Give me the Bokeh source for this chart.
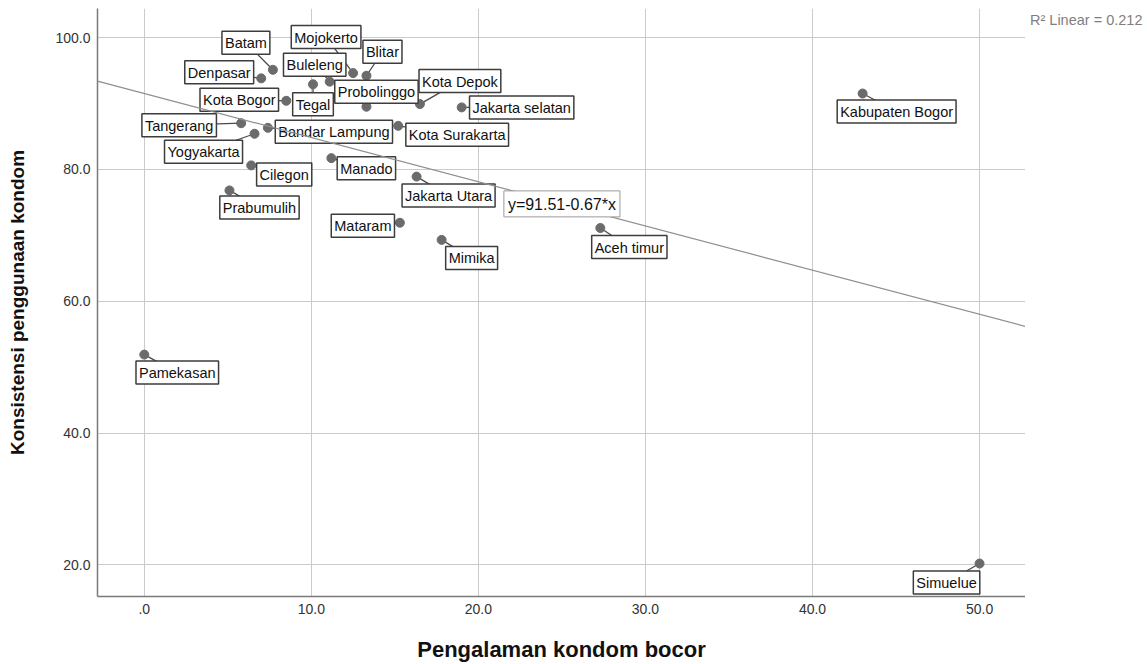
from bokeh.plotting import figure
from bokeh.models import Range1d, FixedTicker, Label, Div
from bokeh.layouts import row
from bokeh.embed import file_html
from bokeh.resources import INLINE

# ---- data -------------------------------------------------------------
cities = [
    "Batam", "Denpasar", "Kota Bogor", "Tangerang", "Bandar Lampung",
    "Yogyakarta", "Cilegon", "Prabumulih", "Pamekasan", "Tegal",
    "Buleleng", "Mojokerto", "Blitar", "Probolinggo", "Kota Depok",
    "Jakarta selatan", "Kota Surakarta", "Manado", "Jakarta Utara",
    "Mataram", "Mimika", "Aceh timur", "Kabupaten Bogor", "Simuelue",
]
kondom_bocor = [
    7.7, 7.0, 8.5, 5.8, 7.4,
    6.6, 6.4, 5.1, 0.0, 10.1,
    11.1, 12.5, 13.3, 13.3, 16.5,
    19.0, 15.2, 11.2, 16.3,
    15.3, 17.8, 27.3, 43.0, 50.0,
]
konsistensi = [
    95.1, 93.8, 90.4, 87.0, 86.3,
    85.4, 80.6, 76.8, 51.9, 92.9,
    93.3, 94.6, 94.2, 89.5, 89.9,
    89.4, 86.6, 81.7, 78.9,
    71.9, 69.3, 71.1, 91.5, 20.2,
]

x_ticks = [0, 10, 20, 30, 40, 50]
x_tick_labels = [".0", "10.0", "20.0", "30.0", "40.0", "50.0"]
y_ticks = [20, 40, 60, 80, 100]
y_tick_labels = ["20.0", "40.0", "60.0", "80.0", "100.0"]

x_title = "Pengalaman kondom bocor"
y_title = "Konsistensi penggunaan kondom"

intercept = 91.51
slope = -0.67
r_squared = 0.212

# ---- layout -------------------------------------------------------------
W, H = 1147, 664
SIDE_W = 122                       # strip right of the chart for the R² note
FIG_W = W - SIDE_W
BORDER_L, BORDER_T, BORDER_B = 97, 8, 68
FRAME_W = FIG_W - BORDER_L
FRAME_H = H - BORDER_T - BORDER_B
X_START, X_END = -2.8, 52.75
Y_START, Y_END = 15.2, 104.4
px_per_x = FRAME_W / (X_END - X_START)
px_per_y = FRAME_H / (Y_END - Y_START)

# label box centre relative to its point, in screen pixels (x right, y up)
label_offsets = {
    "Batam": (-27, 27), "Denpasar": (-42, 6), "Kota Bogor": (-47, 1),
    "Tangerang": (-62, -2), "Bandar Lampung": (66, -4), "Yogyakarta": (-51, -18),
    "Cilegon": (33, -9), "Prabumulih": (30, -17), "Pamekasan": (33, -18),
    "Tegal": (0, -20), "Buleleng": (-15, 17), "Mojokerto": (-27, 36),
    "Blitar": (16, 24), "Probolinggo": (10, 15), "Kota Depok": (40, 23),
    "Jakarta selatan": (60, 0), "Kota Surakarta": (59, -9), "Manado": (35, -10),
    "Jakarta Utara": (32, -19), "Mataram": (-37, -3), "Mimika": (30, -18),
    "Aceh timur": (29, -19), "Kabupaten Bogor": (34, -18), "Simuelue": (-33, -19),
}
EQ_X = 25.0  # where the fit equation sits along the line

p = figure(
    width=FIG_W, height=H,
    x_range=Range1d(X_START, X_END), y_range=Range1d(Y_START, Y_END),
    output_backend="svg", toolbar_location=None,
    min_border_left=BORDER_L, min_border_right=0,
    min_border_top=BORDER_T, min_border_bottom=BORDER_B,
    background_fill_color="white", border_fill_color="white",
)
p.outline_line_color = None

# grid
p.xgrid.ticker = FixedTicker(ticks=x_ticks)
p.ygrid.ticker = FixedTicker(ticks=y_ticks)
for g in (p.xgrid, p.ygrid):
    g.grid_line_color = "#cbcbcb"
    g.grid_line_width = 1

# axes
p.xaxis.ticker = FixedTicker(ticks=x_ticks)
p.yaxis.ticker = FixedTicker(ticks=y_ticks)
p.xaxis.major_label_overrides = dict(zip(x_ticks, x_tick_labels))
p.yaxis.major_label_overrides = dict(zip(y_ticks, y_tick_labels))
p.xaxis.axis_label = x_title
p.yaxis.axis_label = y_title
for ax in (p.xaxis, p.yaxis):
    ax.axis_line_color = "#7a7a7a"
    ax.axis_line_width = 1.5
    ax.major_tick_line_color = None
    ax.minor_tick_line_color = None
    ax.major_tick_out = 0
    ax.major_tick_in = 0
    ax.major_label_text_font = "Liberation Sans"
    ax.major_label_text_font_size = "14px"
    ax.major_label_text_color = "#333333"
    ax.major_label_standoff = 7
    ax.axis_label_text_font = "Liberation Sans"
    ax.axis_label_text_font_style = "bold"
    ax.axis_label_text_color = "#111111"
p.xaxis.axis_label_text_font_size = "22px"
p.yaxis.axis_label_text_font_size = "19px"
p.xaxis.axis_label_standoff = 20
p.yaxis.axis_label_standoff = 24

# connectors from each point towards its label box
cx = [x + label_offsets[c][0] / px_per_x for c, x in zip(cities, kondom_bocor)]
cy = [y + label_offsets[c][1] / px_per_y for c, y in zip(cities, konsistensi)]
p.segment(x0=kondom_bocor, y0=konsistensi, x1=cx, y1=cy,
          line_color="#4a4a4a", line_width=1.3)

# points
p.scatter(kondom_bocor, konsistensi, size=9, fill_color="#6b6b6b",
          line_color="#6b6b6b")

# point labels
for c, x, y in zip(cities, kondom_bocor, konsistensi):
    dx, dy = label_offsets[c]
    p.add_layout(Label(
        x=x, y=y, x_offset=dx, y_offset=dy, text=c,
        text_font="Liberation Sans", text_font_size="14.5px",
        text_color="#111111", text_align="center", text_baseline="middle",
        background_fill_color="white", border_line_color="#3d3d3d",
        border_line_width=1.5, padding=dict(left=3, right=3, top=4, bottom=3),
    ))

# linear fit line with its equation
p.line([X_START, X_END], [intercept + slope * X_START, intercept + slope * X_END],
       line_color="#8f8f8f", line_width=1.2, level="overlay")

p.add_layout(Label(
    x=EQ_X, y=intercept + slope * EQ_X, text=f"y={intercept:.2f}{slope:.2f}*x",
    text_font="Liberation Sans", text_font_size="16px", text_color="#111111",
    text_align="center", text_baseline="middle",
    background_fill_color="white", border_line_color="#9a9a9a",
    border_line_width=1, padding=dict(left=4, right=4, top=5, bottom=4),
    level="overlay",
))

# fit quality note to the right of the chart
note = Div(
    text=(
        '<div style="padding:12px 0 0 5px; font-family:\'Liberation Sans\', Arial, sans-serif;'
        ' font-size:14.5px; line-height:16px; color:#7f7f7f; white-space:nowrap;">'
        f"R\u00b2 Linear = {r_squared:.3f}</div>"
    ),
    width=SIDE_W, height=H, margin=(0, 0, 0, 0),
)

layout = row(p, note, spacing=0)
open("out.html", "w").write(file_html(layout, INLINE))
